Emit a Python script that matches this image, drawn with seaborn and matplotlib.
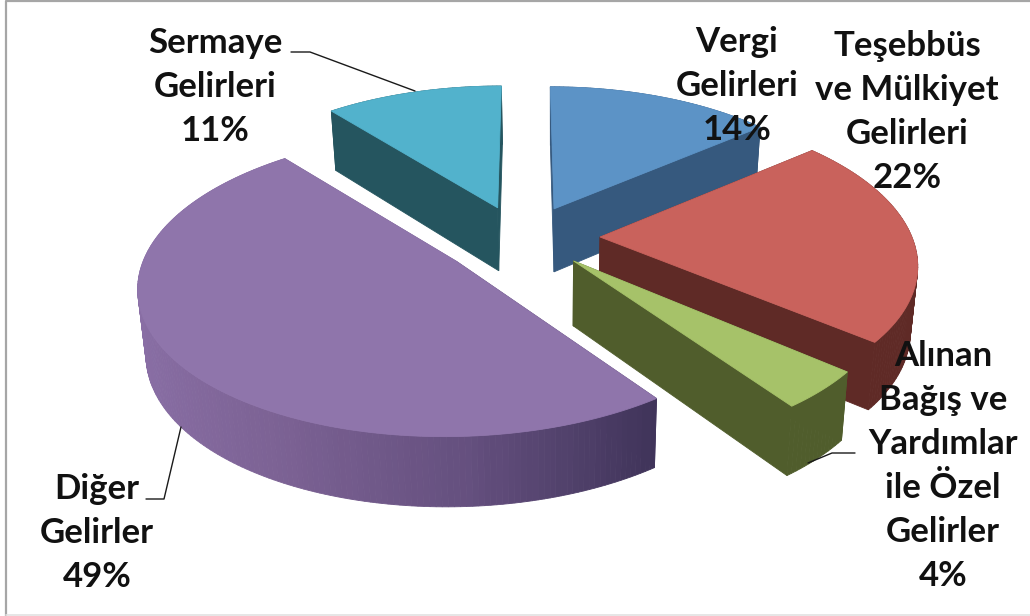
# 3D looking exploded pie of income shares
import numpy as np
import seaborn as sns
import matplotlib.pyplot as plt
from matplotlib.patches import Polygon

# data
labels = ['Vergi\nGelirleri', 'Teşebbüs\nve Mülkiyet\nGelirleri',
          'Alınan\nBağış ve\nYardımlar\nile Özel\nGelirler', 'Diğer\nGelirler',
          'Sermaye\nGelirleri']
shares = [14, 22, 4, 49, 11]
explode = [0.215, 0.235, 0.215, 0.26, 0.215]
shift_x = [0, 0, 0, -0.01, -0.02]
radius_x = [0.97, 0.99, 0.97, 0.97, 0.97]
radius_y = [1.0, 1.0, 1.0, 0.95, 1.0]
top_colors = ['#5c93c6', '#c9625c', '#a6c269', '#8f75ab', '#52b2cc']
side_colors = ['#36597e', '#5f2a26', '#505d2c', '#6f5a8a', '#25555f']
label_pos = [(737, 86), (907, 112), (943, 466), (97, 533), (215, 87)]

# projection settings (pixels)
CX, CY, RX, RY = 526, 237, 315, 149
PERSP, DEPTH, DEPTH_PERSP = 0.155, 64, 0.08
BOTTOM_X0, BOTTOM_SHRINK = 553, 0.98

sns.set_theme(style='white')
plt.rcParams['font.family'] = ['Lato', 'DejaVu Sans']
purple_side = sns.blend_palette(['#8a6fa6', '#7c6294', '#65507f', '#40345a'], 80)


def project(X, Y, z=0):
    s = 1 / (1 + PERSP * Y)
    x = CX + RX * X * s
    y = CY - RY * Y * s
    if z:
        y = y + z * DEPTH / (1 + DEPTH_PERSP * Y)
        x = BOTTOM_X0 + (x - BOTTOM_X0) * BOTTOM_SHRINK
    return x, y


def wall(ax, X, Y, color):
    xt, yt = project(X, Y)
    xb, yb = project(X, Y, 1)
    pts = np.column_stack([np.r_[xt, xb[::-1]], np.r_[yt, yb[::-1]]])
    ax.add_patch(Polygon(pts, facecolor=color, edgecolor=color, lw=0.6))


fig = plt.figure(figsize=(10.3, 6.16), dpi=100)
ax = fig.add_axes([0, 0, 1, 1])
ax.set_xlim(0, 1030)
ax.set_ylim(616, 0)
ax.axis('off')

# slice angles, clockwise from 12 o'clock
edges = np.r_[0, np.cumsum(shares)] / sum(shares) * 2 * np.pi

# back slices first
for i in [0, 4, 1, 3, 2]:
    t0, t1 = edges[i], edges[i + 1]
    mid = (t0 + t1) / 2
    ox, oy = np.sin(mid) * explode[i] + shift_x[i], np.cos(mid) * explode[i]
    th = np.linspace(t0, t1, max(int((t1 - t0) * 60), 4))
    X = ox + radius_x[i] * np.sin(th)
    Y = oy + radius_y[i] * np.cos(th)
    faces = []
    # radial walls
    for e in (0, -1):
        faces.append((np.array([ox, X[e]]), np.array([oy, Y[e]])))
    # outer wall in small strips for the shading
    for j in range(len(th) - 1):
        faces.append((X[j:j + 2], Y[j:j + 2]))
    faces.sort(key=lambda f: -f[1].mean())
    xmin, xmax = X.min(), X.max()
    for fx, fy in faces:
        col = side_colors[i]
        if i == 3:
            t = (fx.mean() - xmin) / (xmax - xmin)
            col = purple_side[min(int(t * 80), 79)]
        wall(ax, fx, fy, col)
    xt, yt = project(np.r_[ox, X], np.r_[oy, Y])
    ax.add_patch(Polygon(np.column_stack([xt, yt]), facecolor=top_colors[i],
                         edgecolor=top_colors[i], lw=0.6))

# leader lines
leader_x = [[291, 310, 415], [146, 164, 181], [855, 832, 808]]
leader_y = [[52, 52, 91], [499, 499, 427], [453, 453, 463]]
for lx, ly in zip(leader_x, leader_y):
    ax.plot(lx, ly, color='#1a1a1a', lw=1.0)

# labels
for name, share, (tx, ty) in zip(labels, shares, label_pos):
    ax.text(tx, ty, f'{name}\n{share}%', ha='center', va='center', fontsize=25,
            fontweight='bold', color='#111111', linespacing=1.46)

# outer frame
ax.plot([6, 6, 1030], [616, 1, 1], color='#a6a6a6', lw=1.6, clip_on=False)
ax.plot([6, 1030], [615, 615], color='#e2e2e2', lw=1.2)

fig.savefig('out.png', dpi=100)
